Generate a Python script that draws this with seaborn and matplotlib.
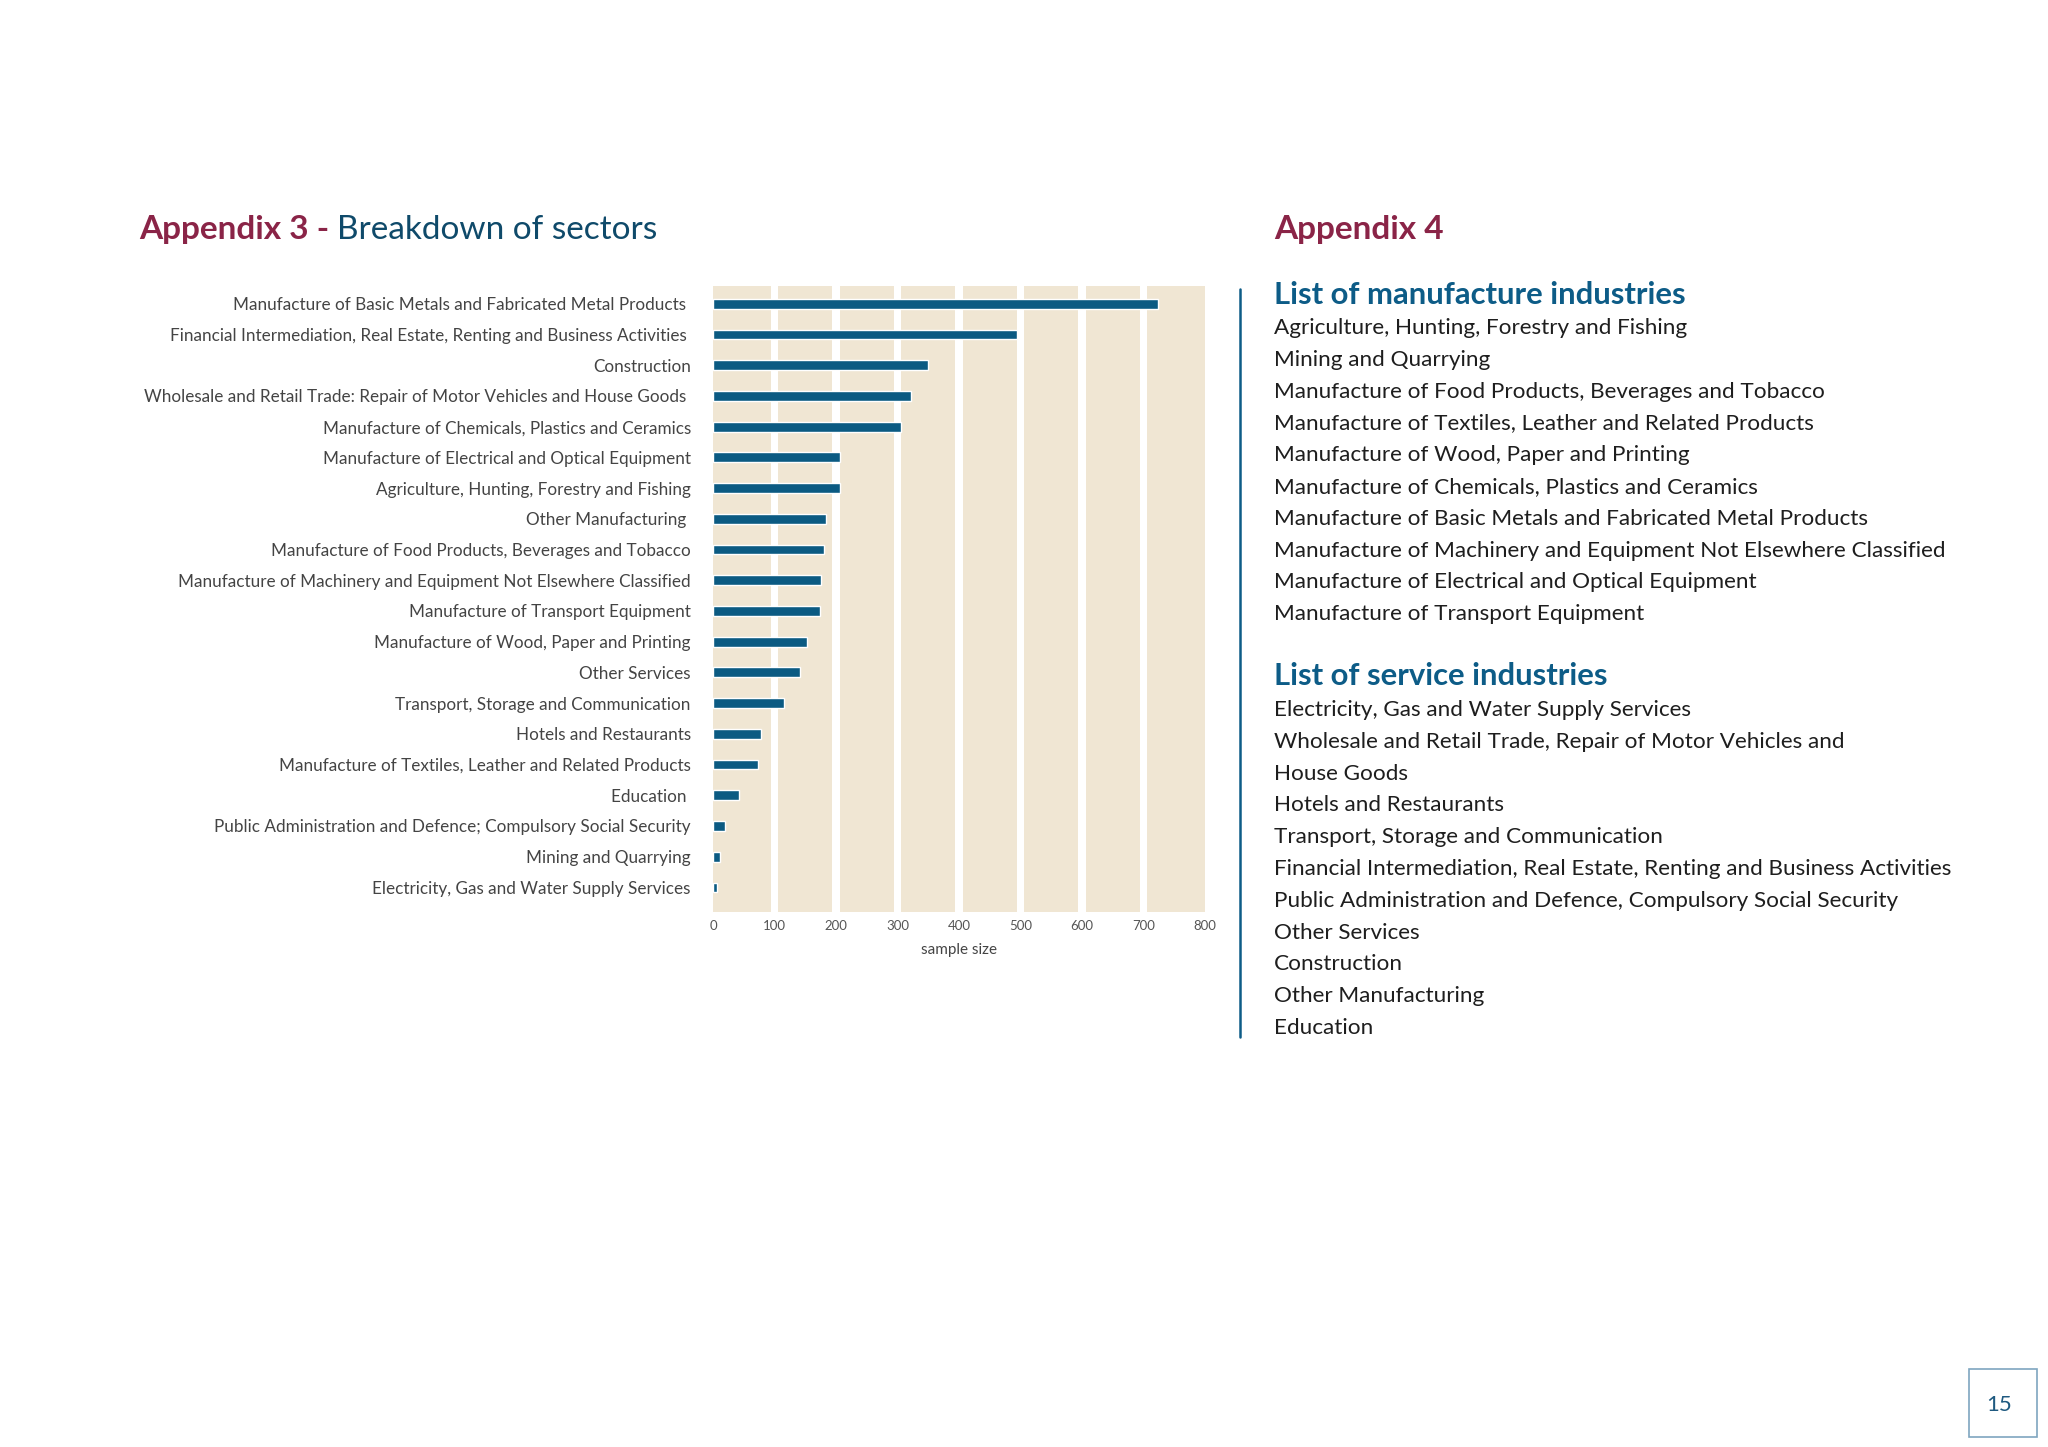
import matplotlib.pyplot as plt
import seaborn as sns
import pandas as pd
from matplotlib.lines import Line2D
from matplotlib.patches import Rectangle

# sample size per sector (top to bottom)
sectors = [
    "Manufacture of Basic Metals and Fabricated Metal Products ",
    "Financial Intermediation, Real Estate, Renting and Business Activities ",
    "Construction",
    "Wholesale and Retail Trade: Repair of Motor Vehicles and House Goods ",
    "Manufacture of Chemicals, Plastics and Ceramics",
    "Manufacture of Electrical and Optical Equipment",
    "Agriculture, Hunting, Forestry and Fishing",
    "Other Manufacturing ",
    "Manufacture of Food Products, Beverages and Tobacco",
    "Manufacture of Machinery and Equipment Not Elsewhere Classified",
    "Manufacture of Transport Equipment",
    "Manufacture of Wood, Paper and Printing",
    "Other Services",
    "Transport, Storage and Communication",
    "Hotels and Restaurants",
    "Manufacture of Textiles, Leather and Related Products",
    "Education ",
    "Public Administration and Defence; Compulsory Social Security",
    "Mining and Quarrying",
    "Electricity, Gas and Water Supply Services",
]
sample_size = [724, 494, 350, 322, 305, 206, 206, 184, 181, 176,
               174, 153, 141, 115, 78, 73, 43, 19, 11, 6]
x_ticks = [0, 100, 200, 300, 400, 500, 600, 700, 800]

manufacture_industries = [
    "Agriculture, Hunting, Forestry and Fishing",
    "Mining and Quarrying",
    "Manufacture of Food Products, Beverages and Tobacco",
    "Manufacture of Textiles, Leather and Related Products",
    "Manufacture of Wood, Paper and Printing",
    "Manufacture of Chemicals, Plastics and Ceramics",
    "Manufacture of Basic Metals and Fabricated Metal Products",
    "Manufacture of Machinery and Equipment Not Elsewhere Classified",
    "Manufacture of Electrical and Optical Equipment",
    "Manufacture of Transport Equipment",
]
service_industries = [
    "Electricity, Gas and Water Supply Services",
    "Wholesale and Retail Trade, Repair of Motor Vehicles and",
    "House Goods",
    "Hotels and Restaurants",
    "Transport, Storage and Communication",
    "Financial Intermediation, Real Estate, Renting and Business Activities",
    "Public Administration and Defence, Compulsory Social Security",
    "Other Services",
    "Construction",
    "Other Manufacturing",
    "Education",
]

MAROON = "#8a2447"
NAVY = "#0f4a6a"
BLUE = "#0d5c87"
BAR = "#0b5a82"
BAND = "#f0e6d3"
FONT = ["Lato", "DejaVu Sans"]

W, H = 2048, 1447

sns.set_theme(style="white")
plt.rcParams["font.family"] = FONT

fig = plt.figure(figsize=(W / 100, H / 100), dpi=100)
ax = fig.add_axes([713 / W, 1 - 912 / H, 492 / W, 626 / H])

# beige columns with white gaps at every hundred
ax.axvspan(0, 800, color=BAND, zorder=0, lw=0)
for t in x_ticks[1:-1]:
    ax.axvspan(t - 6, t + 6, color="white", zorder=0.5, lw=0)

df = pd.DataFrame({"sector": sectors, "n": sample_size})
sns.barplot(data=df, x="n", y="sector", orient="h", color=BAR,
            width=0.32, saturation=1, ax=ax, zorder=2)

ax.set_xlim(0, 800)
ax.set_ylim(len(sectors) - 0.2, -0.58)
ax.set_xticks(x_ticks)
ax.set_xticklabels([str(t) for t in x_ticks], fontsize=9.5, color="#555555")
ax.tick_params(axis="x", length=0, pad=6)
ax.tick_params(axis="y", length=0, pad=16, labelsize=12.3, labelcolor="#444444")
ax.set_xlabel("sample size", fontsize=11, color="#444444", labelpad=8)
ax.set_ylabel("")
ax.set_facecolor("white")
for s in ax.spines.values():
    s.set_visible(False)


def px(x, y):
    return x / W, 1 - y / H


# left heading
t1 = fig.text(*px(139, 230), "Appendix 3 - ", fontsize=24, fontweight="bold",
              color=MAROON, va="center", ha="left")
fig.canvas.draw()
bb = t1.get_window_extent()
fig.text(bb.x1 / W, 1 - 230 / H, "Breakdown of sectors", fontsize=24,
         color=NAVY, va="center", ha="left")

# right panel
XR = 1274
fig.text(*px(XR, 230), "Appendix 4", fontsize=24, fontweight="bold",
         color=MAROON, va="center", ha="left")
fig.add_artist(Line2D([1240 / W, 1240 / W], [1 - 289 / H, 1 - 1037 / H],
                      color=BLUE, lw=1.8, transform=fig.transFigure))

fig.text(*px(XR, 295), "List of manufacture industries", fontsize=22.3,
         fontweight="bold", color=BLUE, va="center", ha="left")
for i, name in enumerate(manufacture_industries):
    fig.text(*px(XR, 328 + i * 31.8), name, fontsize=16.2, color="#1e1e1e",
             va="center", ha="left")

fig.text(*px(XR, 676), "List of service industries", fontsize=22.3,
         fontweight="bold", color=BLUE, va="center", ha="left")
for i, name in enumerate(service_industries):
    fig.text(*px(XR, 710 + i * 31.8), name, fontsize=16.2, color="#1e1e1e",
             va="center", ha="left")

# page number box
fig.add_artist(Rectangle(px(1969, 1437), 68 / W, 68 / H, fill=False,
                         edgecolor="#7fa6c0", lw=1.2, transform=fig.transFigure))
fig.text(*px(1999, 1405), "15", fontsize=16, color="#1f5a80",
         va="center", ha="center")

fig.savefig("out.png", dpi=100, facecolor="white")
